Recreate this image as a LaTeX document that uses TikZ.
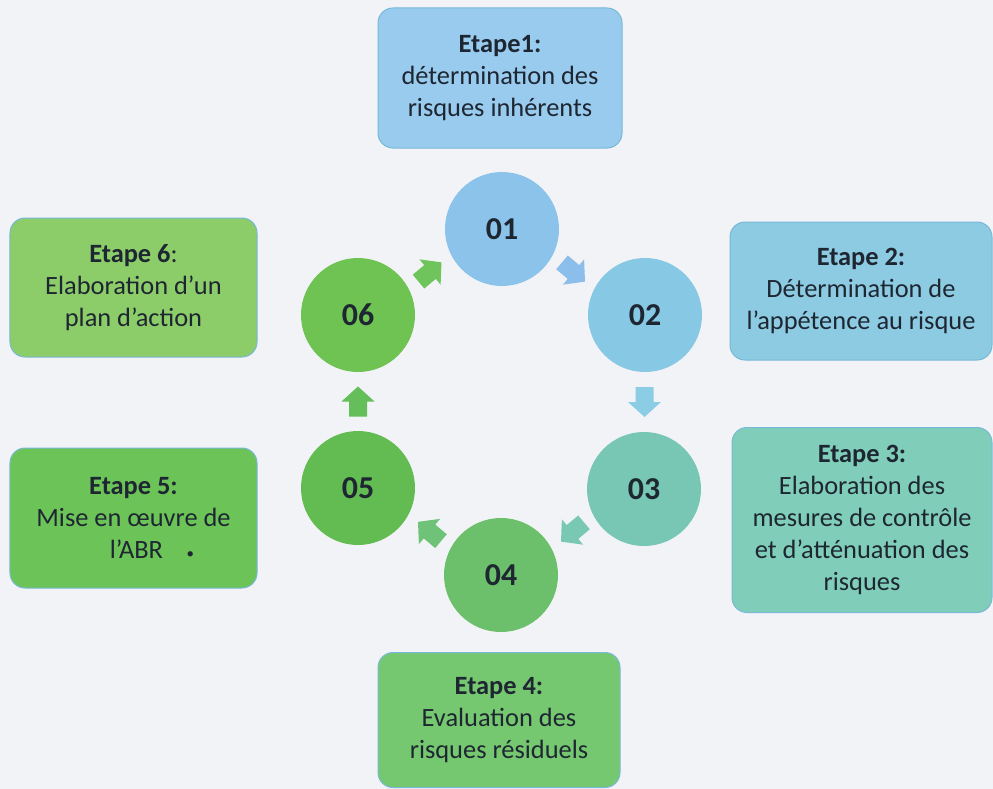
\documentclass[tikz,border=0pt]{standalone}
\usepackage{fontspec}
\setmainfont{Carlito}
\usetikzlibrary{calc}
\definecolor{bgc}{RGB}{242,243,247}
\definecolor{txt}{RGB}{30,38,50}
\definecolor{bA}{RGB}{152,203,238}
\definecolor{cA}{RGB}{140,195,235}
\definecolor{bB}{RGB}{140,203,225}
\definecolor{cB}{RGB}{135,200,228}
\definecolor{bC}{RGB}{128,206,185}
\definecolor{cC}{RGB}{120,198,180}
\definecolor{bD}{RGB}{118,200,112}
\definecolor{cD}{RGB}{108,192,108}
\definecolor{bE}{RGB}{108,195,88}
\definecolor{cE}{RGB}{98,188,82}
\definecolor{bF}{RGB}{140,205,105}
\definecolor{cF}{RGB}{110,195,82}
\definecolor{edge}{RGB}{120,185,215}
\definecolor{aA}{RGB}{112,196,92}
\definecolor{aB}{RGB}{140,190,235}
\definecolor{aC}{RGB}{140,205,230}
\definecolor{aD}{RGB}{120,200,180}
\definecolor{aE}{RGB}{110,195,120}
\definecolor{aF}{RGB}{100,190,90}
\tikzset{
  stepbox/.style={rounded corners=15bp, draw=edge, line width=1bp, align=center,
    text=txt, font=\fontsize{26.5}{32}\selectfont, inner sep=0pt},
  numcircle/.style={circle, minimum size=114bp, inner sep=0pt, text=txt,
    font=\fontsize{32}{32}\selectfont\bfseries},
}
\newcommand{\blockarrow}[3]{%
  \begin{scope}[shift={(#1)}, rotate=#2]
    \fill[#3] (-15,-9) -- (0,-9) -- (0,-16.5) -- (15,0) -- (0,16.5) -- (0,9) -- (-15,9) -- cycle;
  \end{scope}}
\begin{document}
\begin{tikzpicture}[x=1bp,y=-1bp]
\fill[bgc] (0,0) rectangle (993,789);
\useasboundingbox (0,0) rectangle (993,789);

% step boxes
\node[stepbox, fill=bA, minimum width=244bp, minimum height=140bp] (s1) at (500,78)
  {\textbf{Etape1:}\\détermination des\\risques inhérents};
\node[stepbox, fill=bB, minimum width=262bp, minimum height=138bp] (s2) at (861,291)
  {\textbf{Etape 2:}\\Détermination de\\l’appétence au risque};
\node[stepbox, fill=bC, minimum width=260bp, minimum height=185bp] (s3) at (862,520)
  {\textbf{Etape 3:}\\Elaboration des\\mesures de contrôle\\et d’atténuation des\\risques};
\node[stepbox, fill=bD, minimum width=242bp, minimum height=135bp] (s4) at (499,720)
  {\textbf{Etape 4:}\\Evaluation des\\risques résiduels};
\node[stepbox, fill=bE, minimum width=247bp, minimum height=140bp] (s5) at (133.5,518)
  {\textbf{Etape 5:}\\Mise en œuvre de\\\phantom{\hspace{1.4em}}l’ABR\hspace{0.9em}{\fontsize{15}{15}\selectfont •}};
\node[stepbox, fill=bF, minimum width=247bp, minimum height=139bp] (s6) at (133.5,287.5)
  {\textbf{Etape 6}:\\Elaboration d’un\\plan d’action};

% circles
\node[numcircle, fill=cA] (c1) at (502,229) {01};
\node[numcircle, fill=cB] (c2) at (645,315) {02};
\node[numcircle, fill=cC] (c3) at (644,489) {03};
\node[numcircle, fill=cD] (c4) at (501,575) {04};
\node[numcircle, fill=cE] (c5) at (358,488) {05};
\node[numcircle, fill=cF] (c6) at (358,315) {06};

% connectors (block arrows between circles)
\coordinate (m61) at ($(c6)!0.5!(c1)$);
\coordinate (m12) at ($(c1)!0.5!(c2)$);
\coordinate (m23) at ($(c2)!0.5!(c3)$);
\coordinate (m34) at ($(c3)!0.5!(c4)$);
\coordinate (m45) at ($(c4)!0.5!(c5)$);
\coordinate (m56) at ($(c5)!0.5!(c6)$);
\blockarrow{m61}{40}{aA}
\blockarrow{m12}{-40}{aB}
\blockarrow{m23}{-90}{aC}
\blockarrow{m34}{-140}{aD}
\blockarrow{m45}{140}{aE}
\blockarrow{m56}{90}{aF}
\end{tikzpicture}
\end{document}
